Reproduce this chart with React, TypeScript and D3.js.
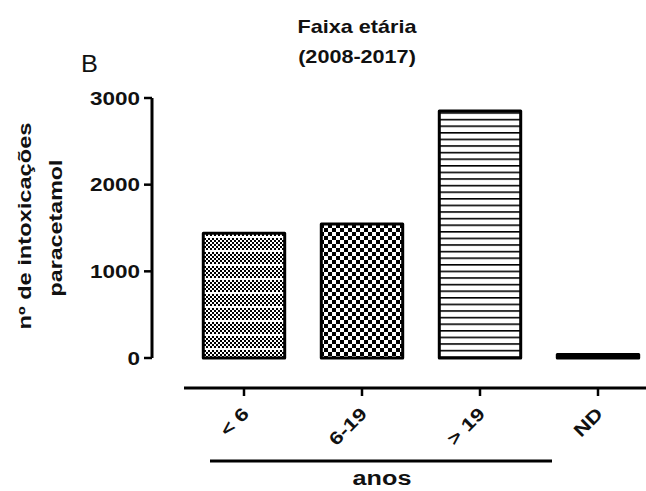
import React from 'react';
import * as d3 from 'd3';

// age groups and counts (2008-2017)
const categories = ['< 6', '6-19', '> 19', 'ND'];
const counts = [1440, 1545, 2850, 40];
const patterns = ['finecheck', 'check', 'hlines', 'solid'];
const yTicks = [0, 1000, 2000, 3000];

const W = 646;
const H = 491;
const FONT = '"Liberation Sans", Arial, sans-serif';

export default function App() {
  const x = d3.scaleBand<string>()
    .domain(categories)
    .range([185, 657])
    .paddingInner(0.31)
    .paddingOuter(0.155);

  const y = d3.scaleLinear()
    .domain([0, 3000])
    .range([358, 98]);

  const axisY = 152;
  const xAxisY = 388;

  const fillFor = (p: string) => (p === 'solid' ? '#000' : `url(#${p})`);

  return (
    <svg
      width={W}
      height={H}
      style={{ position: 'absolute', left: 0, top: 0, background: '#fff' }}
      fontFamily={FONT}
    >
      <defs>
        <pattern id="finecheck" width={4} height={14} patternUnits="userSpaceOnUse">
          <rect width={4} height={14} fill="#fff" />
          {[0, 4, 8].map(r => (
            <g key={r}>
              <rect x={0} y={r} width={2} height={2} fill="#000" />
              <rect x={2} y={r + 2} width={2} height={2} fill="#000" />
            </g>
          ))}
        </pattern>
        <pattern id="check" width={8} height={8} patternUnits="userSpaceOnUse">
          <rect width={8} height={8} fill="#fff" />
          <rect x={0} y={0} width={4} height={4} fill="#000" />
          <rect x={4} y={4} width={4} height={4} fill="#000" />
        </pattern>
        <pattern id="hlines" width={8} height={6.6} patternUnits="userSpaceOnUse">
          <rect width={8} height={6.6} fill="#fff" />
          <rect x={0} y={0} width={8} height={1.6} fill="#000" />
        </pattern>
      </defs>

      {/* panel letter + title */}
      <text transform="translate(81,72) scale(1.1,1)" fontSize={23} fill="#111">B</text>
      <g fontWeight="bold" fontSize={18} textAnchor="middle" fill="#111">
        <text transform="translate(357,33) scale(1.2,1)">Faixa etária</text>
        <text transform="translate(357,63) scale(1.2,1)">(2008-2017)</text>
      </g>

      {/* bars */}
      {categories.map((c, i) => (
        <rect
          key={c}
          x={x(c)}
          y={y(counts[i])}
          width={x.bandwidth()}
          height={y(0) - y(counts[i])}
          fill={fillFor(patterns[i])}
          stroke="#000"
          strokeWidth={3}
          strokeLinejoin="round"
        />
      ))}

      {/* y axis */}
      <line x1={axisY} x2={axisY} y1={y(3000)} y2={y(0)} stroke="#000" strokeWidth={3} />
      {yTicks.map(t => (
        <g key={t}>
          <line x1={axisY - 8} x2={axisY} y1={y(t)} y2={y(t)} stroke="#000" strokeWidth={2.5} />
          <text
            transform={`translate(140,${y(t) + 6.5}) scale(1.25,1)`}
            textAnchor="end"
            fontSize={18}
            fontWeight="bold"
            fill="#111"
          >
            {t}
          </text>
        </g>
      ))}

      {/* y title */}
      <g fontWeight="bold" fontSize={18} fill="#111" textAnchor="middle">
        <text
          transform="translate(31,226) rotate(-90)"
          textLength={207}
          lengthAdjust="spacingAndGlyphs"
        >
          nº de intoxicações
        </text>
        <text
          transform="translate(62,228) rotate(-90)"
          textLength={137}
          lengthAdjust="spacingAndGlyphs"
        >
          paracetamol
        </text>
      </g>

      {/* x axis */}
      <line x1={184} x2={W} y1={xAxisY} y2={xAxisY} stroke="#000" strokeWidth={3} />
      {categories.map(c => {
        const cx = (x(c) as number) + x.bandwidth() / 2;
        return (
          <g key={c}>
            <line x1={cx} x2={cx} y1={xAxisY} y2={xAxisY + 8} stroke="#000" strokeWidth={2.5} />
            <text
              transform={`translate(${cx + 6},415) rotate(-45) scale(1.25,1)`}
              textAnchor="end"
              fontSize={18}
              fontWeight="bold"
              fill="#111"
            >
              {c}
            </text>
          </g>
        );
      })}

      {/* bracket for age groups */}
      <line x1={210} x2={552} y1={461} y2={461} stroke="#000" strokeWidth={3} />
      <text
        transform="translate(382,485) scale(1.2,1)"
        textAnchor="middle"
        fontSize={21}
        fontWeight="bold"
        fill="#111"
      >
        anos
      </text>
    </svg>
  );
}
